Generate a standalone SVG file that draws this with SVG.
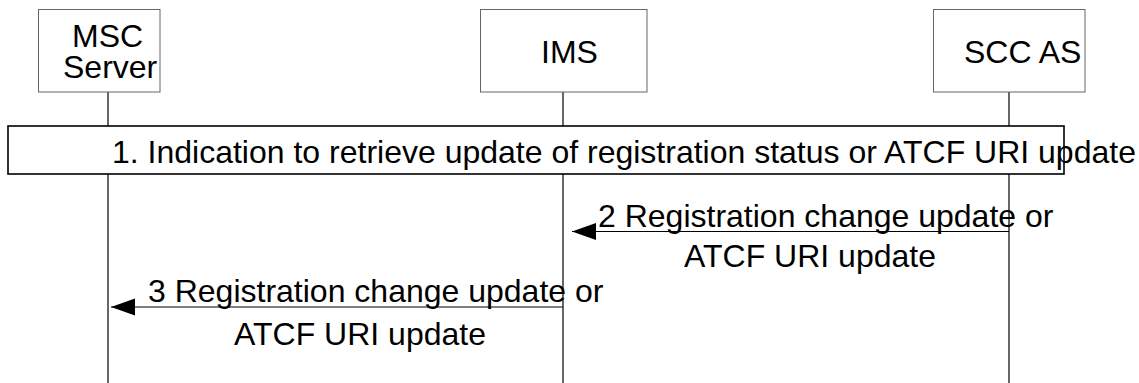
<svg xmlns="http://www.w3.org/2000/svg" width="1139" height="383" viewBox="0 0 1139 383">
<style>
text{font-family:"Liberation Sans",Arial,sans-serif;font-size:32px;fill:#000}
.node{fill:#fff;stroke:#666;stroke-width:1}
.life{stroke:#000;stroke-width:1.2;fill:none}
.msg{stroke:#000;stroke-width:1.2;fill:none}
.bar{fill:#fff;stroke:#000;stroke-width:1.6}
</style>
<defs>
<marker id="ah" markerUnits="userSpaceOnUse" markerWidth="26" markerHeight="18" viewBox="0 0 26 18" refX="25" refY="9" orient="auto">
<path d="M25,9 L1,0.5 L1,17.5 Z" fill="#000"/>
</marker>
</defs>
<g id="lifelines">
<line class="life" x1="108" y1="92" x2="108" y2="383"/>
<line class="life" x1="563" y1="92" x2="563" y2="383"/>
<line class="life" x1="1009" y1="92" x2="1009" y2="383"/>
</g>
<g id="node-msc">
<rect class="node" x="38.5" y="9.5" width="121.5" height="82.5"/>
<text x="72" y="47">MSC</text>
<text x="63" y="78">Server</text>
</g>
<g id="node-ims">
<rect class="node" x="480.5" y="9.5" width="166.5" height="82.5"/>
<text x="541" y="63">IMS</text>
</g>
<g id="node-sccas">
<rect class="node" x="933.5" y="9.5" width="151.5" height="82.5"/>
<text x="964" y="63">SCC AS</text>
</g>
<g id="step1">
<rect class="bar" x="8" y="126" width="1056" height="48"/>
<text x="112" y="163">1. Indication to retrieve update of registration status or ATCF URI update</text>
</g>
<g id="connectors">
<g id="msg2">
<text x="598" y="227">2 Registration change update or</text>
<text x="810" y="267" text-anchor="middle">ATCF URI update</text>
<line class="msg" x1="1009" y1="231.5" x2="572" y2="231.5" marker-end="url(#ah)"/>
</g>
<g id="msg3">
<text x="148" y="302">3 Registration change update or</text>
<text x="360" y="345" text-anchor="middle">ATCF URI update</text>
<line class="msg" x1="563" y1="307" x2="111" y2="307" marker-end="url(#ah)"/>
</g>
</g>
</svg>
